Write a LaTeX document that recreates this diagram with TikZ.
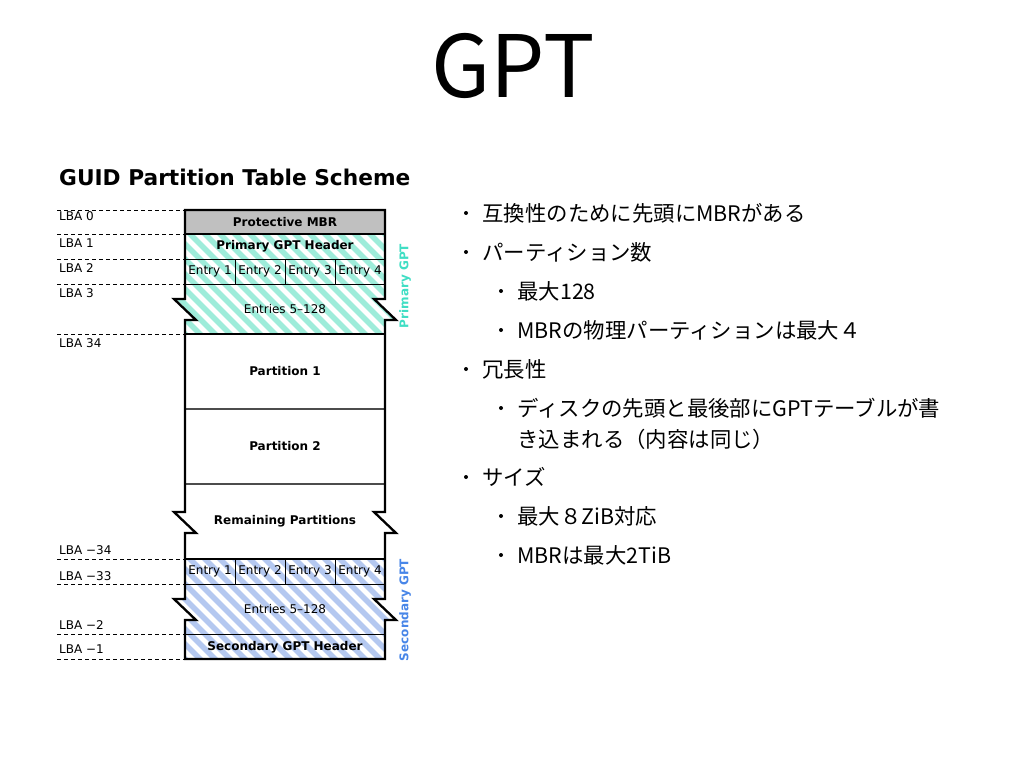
\documentclass[tikz,border=0pt]{standalone}
\usepackage{fontspec}
\setmainfont{DejaVu Sans}
\newfontfamily\jpfont{Noto Sans CJK JP}
\usetikzlibrary{positioning}
\definecolor{mbrgray}{RGB}{192,192,192}
\definecolor{primteal}{RGB}{158,236,218}
\definecolor{primlabel}{RGB}{64,222,196}
\definecolor{secblue}{RGB}{180,200,240}
\definecolor{seclabel}{RGB}{72,134,232}
\tikzset{
  lbaline/.style={dash pattern=on 4pt off 3pt, line width=0.9pt},
  lbalabel/.style={anchor=west, inner sep=0pt, font=\fontsize{12}{14}\selectfont},
  boxtext/.style={inner sep=0pt, font=\fontsize{12}{14}\selectfont\bfseries},
  celltext/.style={inner sep=0pt, font=\fontsize{12}{14}\selectfont},
  sidelabel/.style={inner sep=0pt, rotate=90, font=\fontsize{12}{14}\selectfont\bfseries},
  stripe/.style={line width=5.4pt},
  thinsep/.style={line width=1pt},
  dot/.style={circle, fill, inner sep=0pt, minimum size=4pt},
  item/.style={inner sep=0pt, font=\jpfont\fontsize{21.4}{25}\selectfont},
}
\begin{document}
\begin{tikzpicture}[x=1pt,y=-1pt]
\fill[white] (0,0) rectangle (1024,768);
\useasboundingbox (0,0) rectangle (1024,768);

\node[inner sep=0pt, font=\jpfont\fontsize{86}{90}\selectfont] (title) at (513,66) {GPT};
\node[anchor=base west, inner sep=0pt, font=\fontsize{21.7}{26}\selectfont\bfseries] (scheme) at (59,185) {GUID Partition Table Scheme};

% LBA marks
\foreach \y in {210,234,259,284,334,559,584,634,659}
  \draw[lbaline] (57,\y) -- (185,\y);
\foreach \y/\t [count=\i] in {216/0, 243/1, 268/2, 293/3, 343/34, 550/{−34}, 576/{−33}, 625/{−2}, 649/{−1}}
  \node[lbalabel] (lba\i) at (59,\y) {LBA \t};

% fills
\fill[mbrgray] (185,210) rectangle (385,234);
\begin{scope}
  \clip (185,234) -- (385,234) -- (385,299) -- (374,299) -- (396,320) -- (385,320) -- (385,334)
    -- (185,334) -- (185,320) -- (196,320) -- (174,299) -- (185,299) -- cycle;
  \foreach \s in {30,45,...,405}
    \draw[stripe, primteal] (\s,224) -- (\s+120,344);
\end{scope}
\begin{scope}
  \clip (185,559) -- (385,559) -- (385,599) -- (374,599) -- (396,620) -- (385,620) -- (385,659)
    -- (185,659) -- (185,620) -- (196,620) -- (174,599) -- (185,599) -- cycle;
  \foreach \s in {30,45,...,405}
    \draw[stripe, secblue] (\s,549) -- (\s+120,669);
\end{scope}

% separators
\draw[line width=1.6pt] (185,234) -- (385,234);
\draw[thinsep] (185,259) -- (385,259);
\draw[thinsep] (185,284) -- (385,284);
\draw[thinsep] (185,584) -- (385,584);
\draw[thinsep] (185,634) -- (385,634);
\foreach \x in {235,285,335} {
  \draw[thinsep] (\x,259) -- (\x,284);
  \draw[thinsep] (\x,559) -- (\x,584);
}
\draw[line width=2pt] (185,334) -- (385,334);
\draw[line width=2pt] (185,559) -- (385,559);
\draw[line width=1.2pt, black!70] (185,409) -- (385,409);
\draw[line width=1.2pt, black!70] (185,484) -- (385,484);

% outline
\draw[line width=2.3pt] (185,210) -- (185,299) -- (174,299) -- (196,320) -- (185,320)
  -- (185,512) -- (174,512) -- (196,533) -- (185,533)
  -- (185,599) -- (174,599) -- (196,620) -- (185,620) -- (185,659)
  -- (385,659) -- (385,620) -- (396,620) -- (374,599) -- (385,599)
  -- (385,533) -- (396,533) -- (374,512) -- (385,512)
  -- (385,320) -- (396,320) -- (374,299) -- (385,299) -- (385,210) -- cycle;

% box texts
\node[boxtext] (mbr) at (285,222) {Protective MBR};
\node[boxtext] (phead) at (285,246.5) {Primary GPT Header};
\node[celltext] (pmore) at (285,309) {Entries 5–128};
\node[boxtext] (part1) at (285,371.5) {Partition 1};
\node[boxtext] (part2) at (285,446.5) {Partition 2};
\node[boxtext] (rest) at (285,521.5) {Remaining Partitions};
\node[celltext] (smore) at (285,609) {Entries 5–128};
\node[boxtext] (shead) at (285,647) {Secondary GPT Header};
\foreach \x [count=\i] in {210,260,310,360} {
  \node[celltext] (pent\i) at (\x,271.5) {Entry \i};
  \node[celltext] (sent\i) at (\x,571.5) {Entry \i};
}
\node[sidelabel, primlabel] (plabel) at (405,286) {Primary GPT};
\node[sidelabel, seclabel] (slabel) at (405,610) {Secondary GPT};

% bullet list
\foreach \x/\y/\t [count=\i] in {466/213/{互換性のために先頭にMBRがある},
    466/252/{パーティション数}, 501/291/{最大128},
    501/330/{MBRの物理パーティションは最大４}, 466/369/{冗長性},
    501/408/{ディスクの先頭と最後部にGPTテーブルが書}, 466/477/{サイズ},
    501/516/{最大８ZiB対応}, 501/555/{MBRは最大2TiB}} {
  \node[dot] (b\i) at (\x,\y) {};
  \node[item, right=14pt of b\i] (t\i) {\t};
}
\node[item, anchor=west] (t6b) at (t6.west |- 0,439) {き込まれる（内容は同じ）};
\end{tikzpicture}
\end{document}
